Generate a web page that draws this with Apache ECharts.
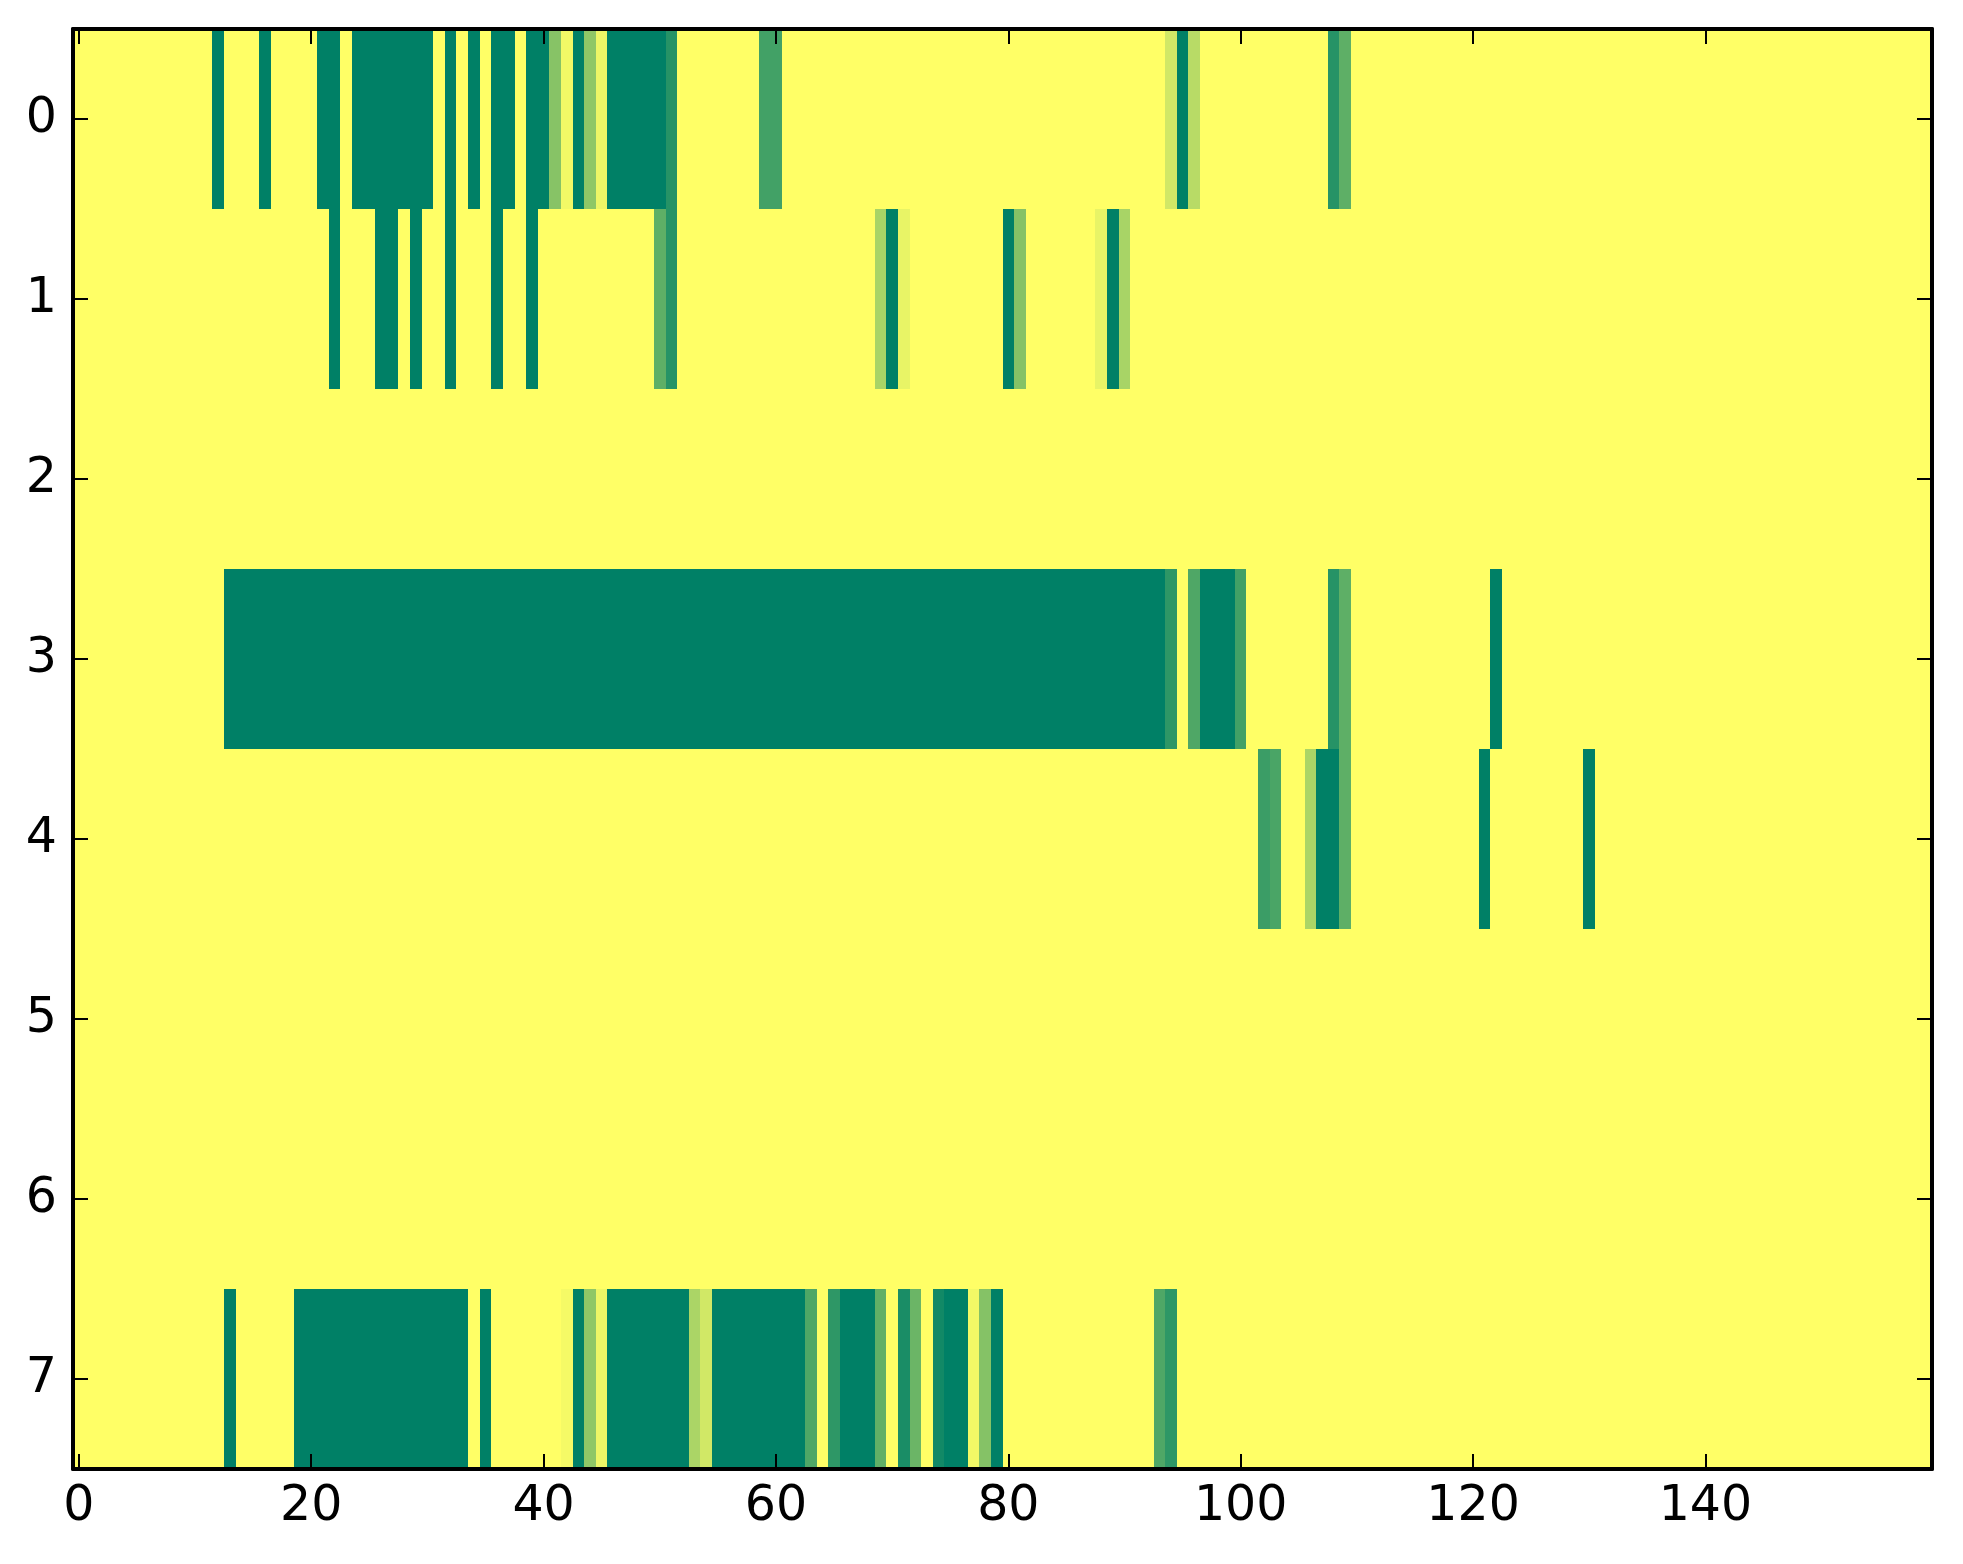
<!DOCTYPE html>
<html><head><meta charset="utf-8">
<script src="https://cdn.jsdelivr.net/npm/echarts@6/dist/echarts.min.js"></script>
<style>html,body{margin:0;padding:0;background:#fff}#c{width:1963px;height:1564px}</style>
</head><body><div id="c"></div>
<script>
// ---- data ----
const columnCount = 160;
const rowLabels = ['0', '1', '2', '3', '4', '5', '6', '7'];
const xTickStep = 20;
// each row: runs of [firstColumn, lastColumn, value]; all other cells are 0
const row0 = [[12,12,1],[16,16,1],[21,22,1],[24,30,1],[32,32,1],[34,34,1],[36,37,1],[39,40,1],
  [41,41,0.47],[42,42,0.05],[43,43,1],[44,44,0.44],[45,45,0.07],[46,50,1],[51,51,0.85],
  [59,60,0.74],[94,94,0.18],[95,95,1],[96,96,0.28],[108,108,0.85],[109,109,0.63]];
const row1 = [[22,22,1],[26,27,1],[29,29,1],[32,32,1],[36,36,1],[39,39,1],[50,50,0.63],[51,51,0.85],
  [69,69,0.34],[70,70,1],[71,71,0.09],[80,80,1],[81,81,0.48],[88,88,0.09],[89,89,1],[90,90,0.34]];
const row2 = [];
const row3 = [[13,93,1],[94,94,0.82],[96,96,0.69],[97,99,1],[100,100,0.74],[108,108,0.85],[109,109,0.63],[122,122,1]];
const row4 = [[102,102,0.77],[103,103,0.71],[106,106,0.33],[107,108,1],[109,109,0.63],[121,121,1],[130,130,1]];
const row5 = [];
const row6 = [];
const row7 = [[13,13,1],[19,33,1],[35,35,1],[42,42,0.04],[43,43,1],[44,44,0.44],[45,45,0.07],[46,52,1],
  [53,53,0.33],[54,54,0.18],[55,62,1],[63,63,0.69],[65,65,0.82],[66,68,1],[69,69,0.62],[71,71,0.9],
  [72,72,0.58],[74,74,0.93],[75,76,1],[77,77,0.05],[78,78,0.48],[79,79,1],[93,93,0.69],[94,94,0.82]];
const rows = [row0, row1, row2, row3, row4, row5, row6, row7];

// ---- build ----
const xCats = Array.from({length: columnCount}, (_, i) => String(i));
const cells = [];
rows.forEach((runs, r) => {
  const vals = new Array(columnCount).fill(0);
  runs.forEach(([a, b, v]) => { for (let c = a; c <= b; c++) vals[c] = v; });
  vals.forEach((v, c) => cells.push([c, r, v]));
});

const FONT = 'DejaVu Sans';
const spine = {color: '#000', width: 4};
const tickStyle = {color: '#000', width: 2};
const tickX = (i) => i % xTickStep === 0;
const chart = echarts.init(document.getElementById('c'), null, {renderer: 'canvas'});
chart.setOption({
  animation: false,
  backgroundColor: '#fff',
  grid: {left: 73, right: 31, top: 29, bottom: 95, containLabel: false},
  xAxis: [
    {type: 'category', data: xCats, position: 'bottom', z: 10,
     axisLine: {show: true, lineStyle: spine},
     axisTick: {show: true, inside: true, length: 15, alignWithLabel: true, interval: tickX, lineStyle: tickStyle},
     axisLabel: {show: true, interval: tickX, margin: 14, color: '#000', fontFamily: FONT, fontSize: 49},
     splitLine: {show: false}},
    {type: 'category', data: xCats, position: 'top', z: 10,
     axisLine: {show: true, lineStyle: spine},
     axisTick: {show: true, inside: true, length: 15, alignWithLabel: true, interval: tickX, lineStyle: tickStyle},
     axisLabel: {show: false}, splitLine: {show: false}}
  ],
  yAxis: [
    {type: 'category', data: rowLabels, inverse: true, position: 'left', z: 10,
     axisLine: {show: true, lineStyle: spine},
     axisTick: {show: true, inside: true, length: 15, alignWithLabel: true, lineStyle: tickStyle},
     axisLabel: {show: true, margin: 16, color: '#000', fontFamily: FONT, fontSize: 49},
     splitLine: {show: false}},
    {type: 'category', data: rowLabels, inverse: true, position: 'right', z: 10,
     axisLine: {show: true, lineStyle: spine},
     axisTick: {show: true, inside: true, length: 15, alignWithLabel: true, lineStyle: tickStyle},
     axisLabel: {show: false}, splitLine: {show: false}}
  ],
  visualMap: {type: 'continuous', show: false, min: 0, max: 1, dimension: 2, seriesIndex: 0,
    inRange: {color: ['#ffff66', '#008066']}},
  series: [{
    type: 'custom', xAxisIndex: 0, yAxisIndex: 0, data: cells, silent: true,
    encode: {x: 0, y: 1},
    renderItem: function (params, api) {
      const p = api.coord([api.value(0), api.value(1)]);
      const s = api.size([1, 1]);
      const x0 = Math.round(p[0] - s[0] / 2), x1 = Math.round(p[0] + s[0] / 2);
      const y0 = Math.round(p[1] - s[1] / 2), y1 = Math.round(p[1] + s[1] / 2);
      return {type: 'rect', shape: {x: x0, y: y0, width: x1 - x0, height: y1 - y0},
        style: {fill: api.visual('color')}};
    }
  }]
});
</script></body></html>
